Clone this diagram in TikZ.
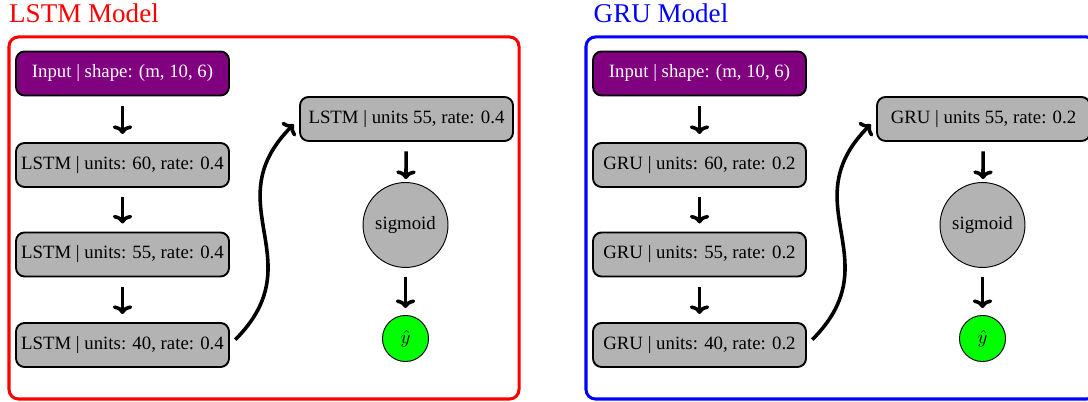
\documentclass[tikz,border=0pt]{standalone}
\usepackage{fontspec}
\setmainfont{Liberation Serif}
\usetikzlibrary{arrows.meta}
\definecolor{inputpurple}{RGB}{128,0,128}
\definecolor{layergray}{RGB}{179,179,179}
\definecolor{outgreen}{RGB}{0,255,0}

\tikzset{
  layer/.style={draw=black, line width=1pt, rounded corners=4.5pt, fill=layergray,
    minimum width=113.3pt, minimum height=23.4pt, inner sep=2pt},
  inputlayer/.style={layer, fill=inputpurple, text=white},
  actnode/.style={circle, draw=black, line width=0.5pt, fill=layergray,
    minimum size=45.2pt, inner sep=0pt},
  outnode/.style={circle, draw=black, line width=0.5pt, fill=outgreen,
    minimum size=24.5pt, inner sep=0pt},
  bigtip/.style={-{To[length=4.6pt, width=10.4pt, line width=1.9pt]}},
  flow/.style={bigtip, line width=1.9pt, shorten <=5pt},
  skipflow/.style={bigtip, line width=1.9pt, shorten <=4pt, shorten >=4pt,
    out=45, in=-135, looseness=1.3},
  panelframe/.style={line width=1.6pt, rounded corners=5pt},
  paneltitle/.style={font=\Large, anchor=base},
}

% One model panel: #1 name prefix, #2 layer type, #3 dropout rate,
% #4 frame colour, #5 title
\newcommand\modelpanel[5]{%
  \node[paneltitle, text=#4] (#1title) at (84,23) {#5};
  \draw[panelframe, draw=#4] (9,37) rectangle (519,399);
  \node[inputlayer] (#1in) at (122.5,73.5) {Input | shape: (m, 10, 6)};
  \node[layer] (#1a) at (122.5,165) {#2 | units: 60, rate: #3};
  \node[layer] (#1b) at (122.5,254.5) {#2 | units: 55, rate: #3};
  \node[layer] (#1c) at (122.5,345) {#2 | units: 40, rate: #3};
  \node[layer] (#1d) at (406.5,119) {#2 | units 55, rate: #3};
  \node[actnode] (#1sig) at (405.5,225) {sigmoid};
  \node[outnode] (#1out) at (405.5,338.5) {$\hat{y}$};
  \draw[flow, shorten >=4.3pt] (#1in) -- (#1a);
  \draw[flow, shorten >=4.3pt] (#1a) -- (#1b);
  \draw[flow, shorten >=4.3pt] (#1b) -- (#1c);
  \draw[skipflow] (#1c.east) to (#1d.west);
  \draw[flow, shorten >=1.6pt] (#1d) -- (#1sig);
  \draw[flow, shorten >=3.7pt] (#1sig) -- (#1out);
}

\begin{document}
\begin{tikzpicture}[x=0.532pt, y=-0.532pt]
  \clip (0,0) rectangle (1088,402);
  \modelpanel{l}{LSTM}{0.4}{red}{LSTM Model}
  \begin{scope}[xshift=306.96pt]
    \modelpanel{g}{GRU}{0.2}{blue}{GRU Model}
  \end{scope}
\end{tikzpicture}
\end{document}
